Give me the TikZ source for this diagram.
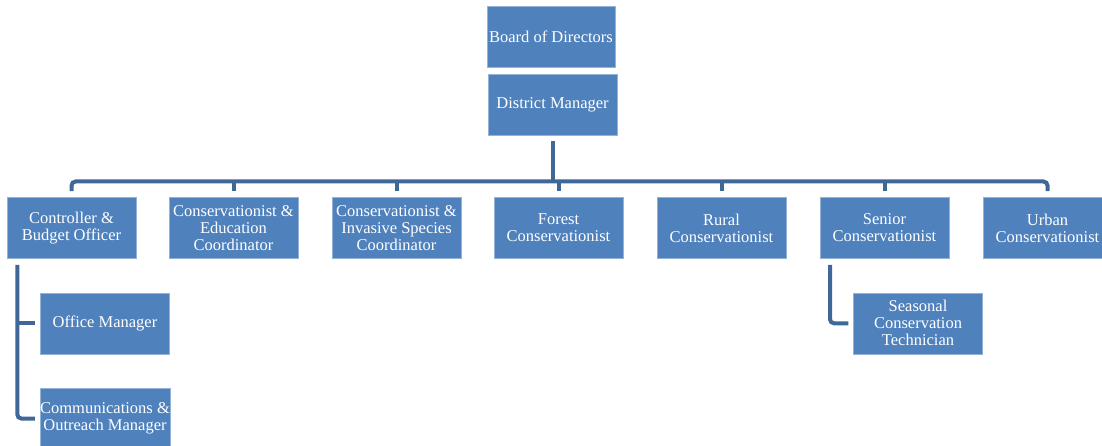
\documentclass[tikz,border=0pt]{standalone}
\usepackage{fontspec}
\setmainfont{Liberation Serif}
\definecolor{boxblue}{HTML}{4F81BD}
\definecolor{linkblue}{HTML}{3F6797}
\tikzset{
  post/.style={fill=boxblue, draw=boxblue!60!white, line width=0.5pt,
    minimum width=129pt, minimum height=61pt, inner sep=0pt, align=center,
    text=white, font=\fontsize{16.5}{17}\selectfont},
  link/.style={draw=linkblue, line width=4pt}
}
\begin{document}
\begin{tikzpicture}[x=1pt,y=-1pt]
	\useasboundingbox (0,0) rectangle (1102,446);
	% top of the chart
	\node[post, minimum width=128pt] (board) at (551,36.5) {Board of Directors};
	\node[post] (dm) at (552.5,104.5) {District Manager};
	% second row
	\foreach \x/\n/\t in {71.5/ctrl/{Controller \&\\Budget Officer},
		233.5/edu/{Conservationist \&\\Education\\Coordinator},
		396.5/inv/{Conservationist \&\\Invasive Species\\Coordinator},
		558.5/forest/{Forest\\Conservationist},
		721.5/rural/{Rural\\Conservationist},
		884.5/senior/{Senior\\Conservationist},
		1047.5/urban/{Urban\\Conservationist}}
		\node[post] (\n) at (\x,228) {\t};
	% third row
	\node[post] (office) at (105,323.3) {Office Manager};
	\node[post] (comm) at (105,418.5) {Communications \&\\Outreach Manager};
	\node[post] (seasonal) at (918,323.3) {Seasonal\\Conservation\\Technician};
	%
	\coordinate (bus) at (0,181.5);
	\coordinate (spineA) at (17.3,0);
	\coordinate (spineB) at (830,0);
	\draw[link, shorten <=6pt] (dm.south) -- (dm.south |- bus);
	\draw[link, rounded corners=4pt, shorten <=6pt, shorten >=6pt]
		(ctrl.north) |- (urban.north |- bus) -- (urban.north);
	\foreach \n in {edu,inv,forest,rural,senior}
		\draw[link, shorten >=6pt] (\n.north |- bus) -- (\n.north);
	%
	\draw[link, rounded corners=4pt, shorten <=6pt, shorten >=5pt]
		(ctrl.south -| spineA) |- (comm.west);
	\draw[link, shorten >=5pt] (spineA |- office.west) -- (office.west);
	\draw[link, rounded corners=4pt, shorten <=6pt, shorten >=5pt]
		(senior.south -| spineB) |- (seasonal.west);
\end{tikzpicture}
\end{document}
